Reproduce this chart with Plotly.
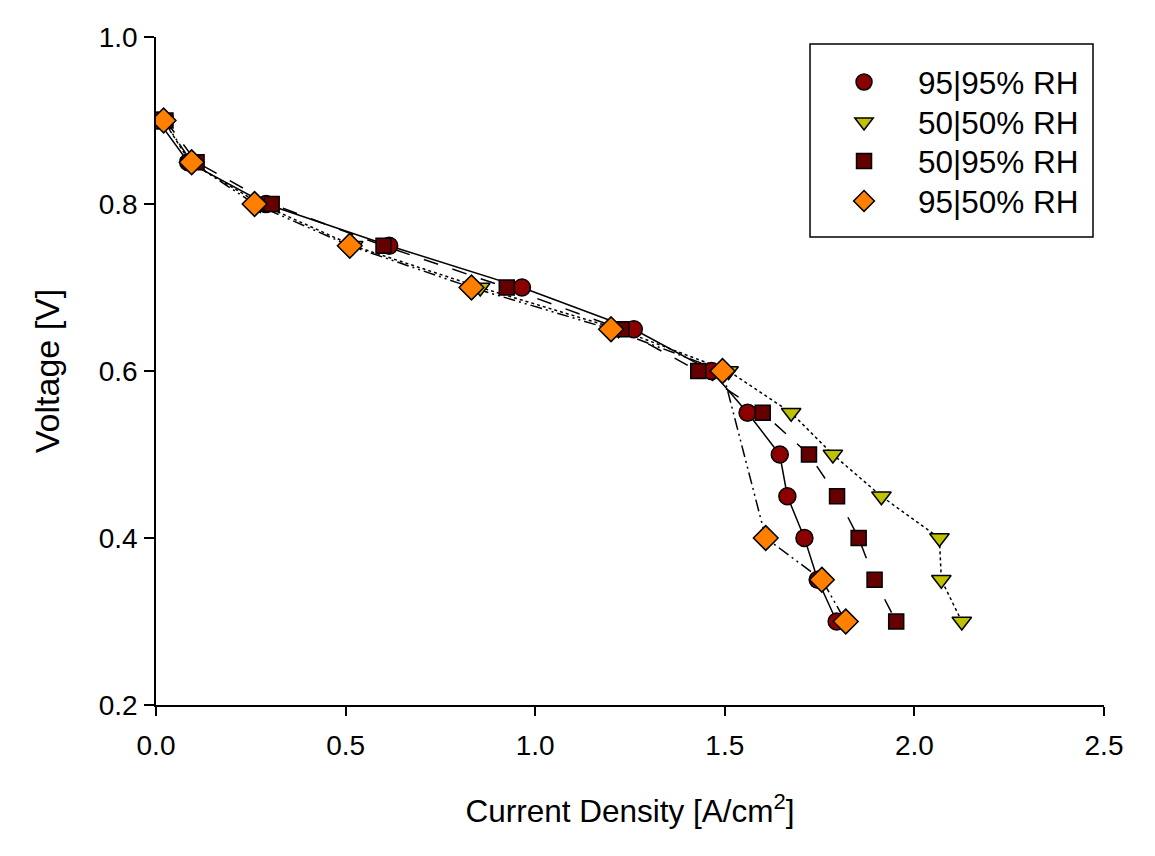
import plotly.graph_objects as go

# Voltage levels
v_all = [0.9, 0.85, 0.8, 0.75, 0.7, 0.65, 0.6, 0.55, 0.5, 0.45, 0.4, 0.35, 0.3]
v_9550 = [0.9, 0.85, 0.8, 0.75, 0.7, 0.65, 0.6, 0.4, 0.35, 0.3]

# Current densities [A/cm2]
i_9595 = [0.005, 0.085, 0.29, 0.615, 0.965, 1.26, 1.465, 1.56, 1.645, 1.665, 1.71, 1.745, 1.795]
i_5050 = [0.02, 0.09, 0.275, 0.52, 0.855, 1.22, 1.51, 1.675, 1.785, 1.913, 2.066, 2.071, 2.125]
i_5095 = [0.025, 0.107, 0.305, 0.60, 0.925, 1.227, 1.43, 1.60, 1.722, 1.796, 1.853, 1.895, 1.952]
i_9550 = [0.02, 0.094, 0.26, 0.511, 0.832, 1.20, 1.494, 1.608, 1.756, 1.819]

series = [
    dict(name="95|95% RH", x=i_9595, y=v_all, symbol="circle", color="#8B0000", dash="solid", size=17),
    dict(name="50|50% RH", x=i_5050, y=v_all, symbol="triangle-down", color="#BFC200", dash="dot", size=17),
    dict(name="50|95% RH", x=i_5095, y=v_all, symbol="square", color="#650000", dash="longdash", size=15),
    dict(name="95|50% RH", x=i_9550, y=v_9550, symbol="diamond", color="#FF8000", dash="12px,4px,2px,4px,2px,4px", size=19),
]

legend_ids = ["legend", "legend2", "legend3", "legend4"]
legend_y = [0.9326, 0.8728, 0.8144, 0.7545]

fig = go.Figure()
for s in series:
    fig.add_trace(go.Scatter(x=s["x"], y=s["y"], mode="lines", showlegend=False,
                             line=dict(color="black", width=1.5, dash=s["dash"]), hoverinfo="skip"))
for s, lid in zip(series, legend_ids):
    fig.add_trace(go.Scatter(x=s["x"], y=s["y"], mode="markers", name=s["name"], legend=lid,
                             marker=dict(symbol=s["symbol"], size=s["size"], color=s["color"],
                                         line=dict(color="black", width=1.5))))

# legend frame
fig.add_shape(type="rect", xref="paper", yref="paper",
              x0=0.6899, x1=0.9884, y0=0.7006, y1=0.9895,
              line=dict(color="black", width=1.5), fillcolor="white", layer="below")

font = "Arial, Liberation Sans, sans-serif"
legend_style = dict(x=0.6899, xanchor="left", yanchor="middle",
                    borderwidth=0, bgcolor="rgba(0,0,0,0)",
                    font=dict(size=31.5), itemwidth=98)
layout_legends = {lid: dict(legend_style, y=yy) for lid, yy in zip(legend_ids, legend_y)}

fig.update_layout(
    width=1139, height=840,
    paper_bgcolor="white", plot_bgcolor="white",
    margin=dict(l=148, r=43, t=29, b=143),
    font=dict(family=font, size=28, color="black"),
    xaxis=dict(range=[0, 2.5], tickvals=[0, 0.5, 1.0, 1.5, 2.0, 2.5],
               ticktext=["0.0", "0.5", "1.0", "1.5", "2.0", "2.5"],
               showline=True, linecolor="black", linewidth=1.5, ticks="outside",
               ticklen=9, tickwidth=1.5, tickcolor="black", showgrid=False, zeroline=False,
               title=dict(text="Current Density [A/cm<sup>2</sup>]", standoff=40,
                          font=dict(size=31.5)),
               ticklabelstandoff=6),
    yaxis=dict(range=[0.2, 1.0], tickvals=[0.2, 0.4, 0.6, 0.8, 1.0],
               ticktext=["0.2", "0.4", "0.6", "0.8", "1.0"],
               showline=True, linecolor="black", linewidth=1.5, ticks="outside",
               ticklen=10, tickwidth=1.5, tickcolor="black", showgrid=False, zeroline=False,
               title=dict(text="Voltage [V]", standoff=29, font=dict(size=34)),
               ticklabelstandoff=1),
    **layout_legends,
)
fig.write_html("out.html")
